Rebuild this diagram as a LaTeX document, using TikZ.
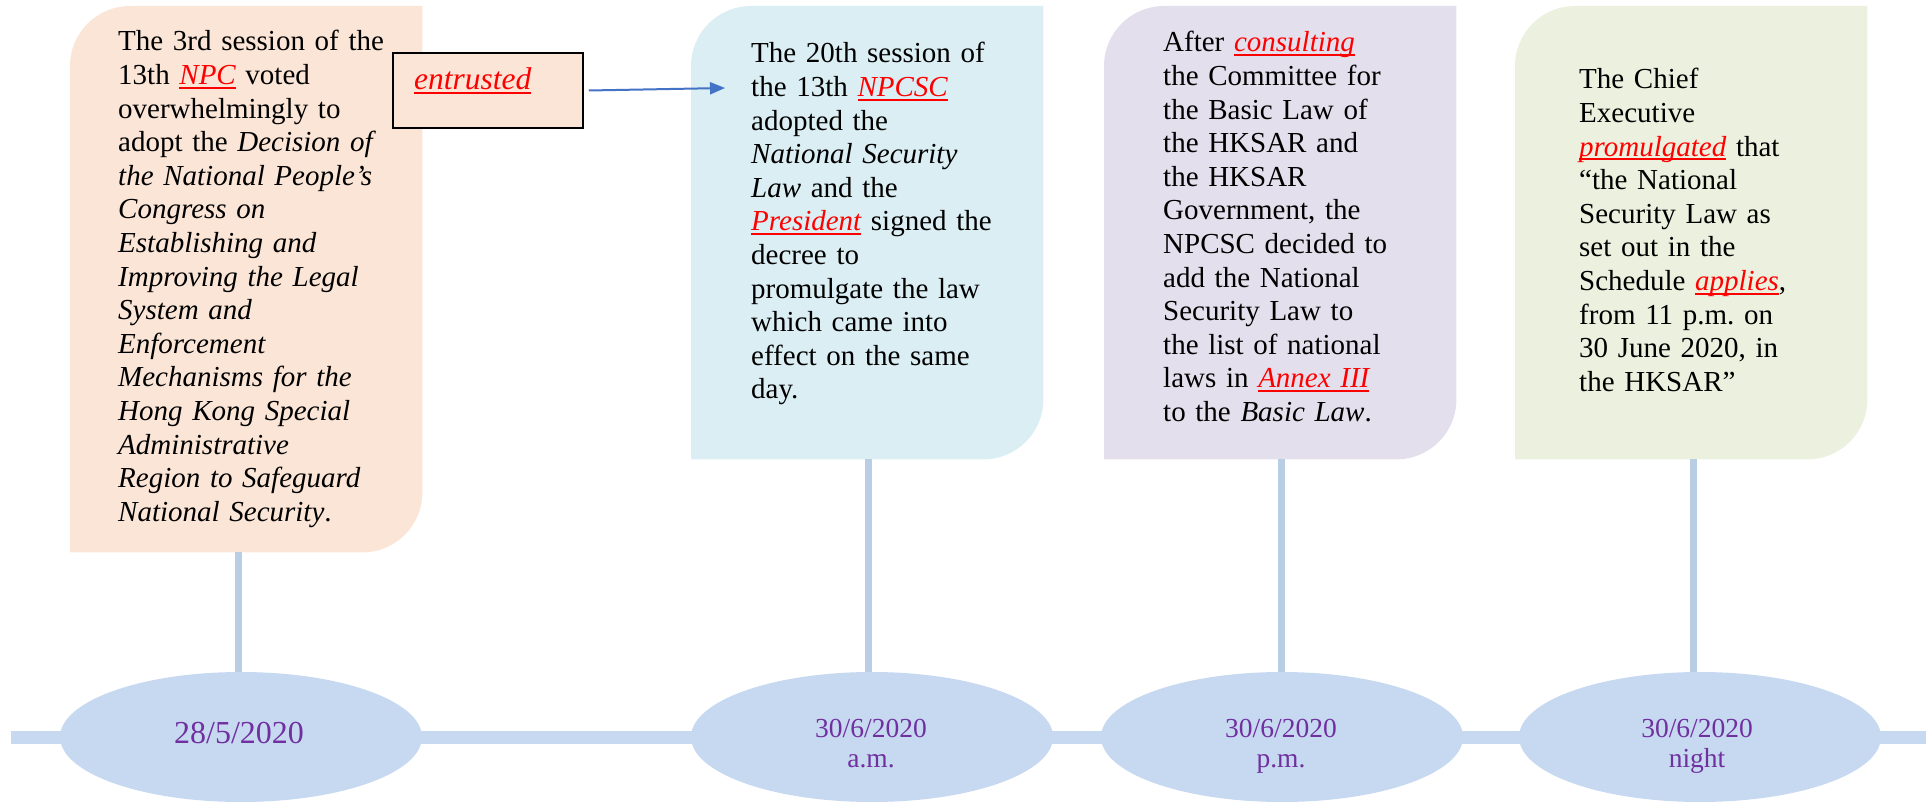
\documentclass[tikz,border=0pt]{standalone}
\usepackage{fontspec}
\setmainfont{Liberation Serif}
\usetikzlibrary{shapes.geometric,arrows.meta,calc}
\definecolor{peach}{HTML}{FBE5D6}
\definecolor{cardblue}{HTML}{DAEEF3}
\definecolor{lavender}{HTML}{E4DFEC}
\definecolor{cardgreen}{HTML}{EBF1DE}
\definecolor{ellc}{HTML}{C6D9F0}
\definecolor{stemc}{HTML}{B9CDE5}
\definecolor{datec}{HTML}{7030A0}
\definecolor{arrowc}{HTML}{4472C4}
\newsavebox{\myubox}
\newcommand{\redu}[1]{\leavevmode{\color{red}\itshape\sbox{\myubox}{#1}\rlap{\rule[-4pt]{\wd\myubox}{1.8pt}}\usebox{\myubox}}}
\newcommand{\cardshape}[2]{%
  \fill[#2] (#1.south west) -- ([yshift=-60pt]#1.north west)
    arc[start angle=180,end angle=90,radius=60pt] -- (#1.north east)
    -- ([yshift=60pt]#1.south east)
    arc[start angle=0,end angle=-90,radius=60pt] -- cycle;}
\tikzset{
  cardbox/.style={rectangle, inner sep=0pt, anchor=north west, minimum width=352pt},
  cardtext/.style={anchor=base west, inner sep=0pt, text width=272pt, align=left,
    font=\fontsize{29}{33.6}\selectfont},
  datenode/.style={ellipse, fill=ellc, inner sep=0pt, minimum width=362pt, minimum height=130pt},
  datetext/.style={anchor=base, inner sep=0pt, text width=220pt, align=center, text=datec,
    font=\fontsize{27.5}{30}\selectfont},
  stem/.style={draw=stemc, line width=7pt},
  timeline/.style={draw=ellc, line width=13pt},
}
\begin{document}
\begin{tikzpicture}[x=1pt,y=1pt]
\useasboundingbox (0,0) rectangle (1928,-802);
% timeline
\coordinate (tl0) at (11,-737);
\coordinate (tl1) at (1926,-737);
\draw[timeline] (tl0) -- (tl1);
% cards
\node[cardbox, minimum height=546pt] (box1) at (70,-6) {};
\node[cardbox, minimum height=453pt] (box2) at (691,-6) {};
\node[cardbox, minimum height=453pt] (box3) at (1104,-6) {};
\node[cardbox, minimum height=453pt] (box4) at (1515,-6) {};
\cardshape{box1}{peach}
\cardshape{box2}{cardblue}
\cardshape{box3}{lavender}
\cardshape{box4}{cardgreen}
% ellipses
\node[datenode] (e1) at (241,-737) {};
\node[datenode] (e2) at (872,-737) {};
\node[datenode] (e3) at (1282,-737) {};
\node[datenode] (e4) at (1700,-737) {};
% stems
\draw[stem] ([xshift=-3pt]e1.north) -- ([xshift=-3pt]e1.north |- box1.south);
\draw[stem] ([xshift=-4pt]e2.north) -- ([xshift=-4pt]e2.north |- box2.south);
\draw[stem] ([xshift=-1pt]e3.north) -- ([xshift=-1pt]e3.north |- box3.south);
\draw[stem] ([xshift=-7pt]e4.north) -- ([xshift=-7pt]e4.north |- box4.south);
% dates
\node[datetext, font=\fontsize{32}{34}\selectfont] (d1) at (239,-743) {28/5/2020};
\node[datetext] (d2) at (871,-737) {30/6/2020\\a.m.};
\node[datetext] (d3) at (1281,-737) {30/6/2020\\p.m.};
\node[datetext] (d4) at (1697,-737) {30/6/2020\\night};
% texts
\node[cardtext] (t1) at (118,-51) {The 3rd session of the\\
13th \redu{NPC} voted\\
overwhelmingly to\\
adopt the \textit{Decision of}\\
\textit{the National People’s}\\
\textit{Congress on}\\
\textit{Establishing and}\\
\textit{Improving the Legal}\\
\textit{System and}\\
\textit{Enforcement}\\
\textit{Mechanisms for the}\\
\textit{Hong Kong Special}\\
\textit{Administrative}\\
\textit{Region to Safeguard}\\
\textit{National Security}.};
\node[cardtext] (t2) at (751,-63) {The 20th session of\\
the 13th \redu{NPCSC}\\
adopted the\\
\textit{National Security}\\
\textit{Law} and the\\
\redu{President} signed the\\
decree to\\
promulgate the law\\
which came into\\
effect on the same\\
day.};
\node[cardtext] (t3) at (1163,-52) {After \redu{consulting}\\
the Committee for\\
the Basic Law of\\
the HKSAR and\\
the HKSAR\\
Government, the\\
NPCSC decided to\\
add the National\\
Security Law to\\
the list of national\\
laws in \redu{Annex III}\\
to the \textit{Basic Law}.};
\node[cardtext] (t4) at (1579,-89) {The Chief\\
Executive\\
\redu{promulgated} that\\
“the National\\
Security Law as\\
set out in the\\
Schedule \redu{applies},\\
from 11 p.m.\ on\\
30 June 2020, in\\
the HKSAR”};
% entrusted box
\node[rectangle, draw=black, line width=1.5pt, fill=peach, minimum width=190pt, minimum height=75pt, inner sep=0pt] (ent) at (488,-90.5) {};
\node[anchor=base west, inner sep=0pt, font=\fontsize{31.5}{34}\selectfont] (entt) at (414,-90) {\redu{entrusted}};
\coordinate (arrtip) at (725,-88);
\draw[arrowc, line width=2pt, -{Triangle[length=15pt,width=12pt]}] ([xshift=5pt]ent.east) -- (arrtip);
\end{tikzpicture}
\end{document}
